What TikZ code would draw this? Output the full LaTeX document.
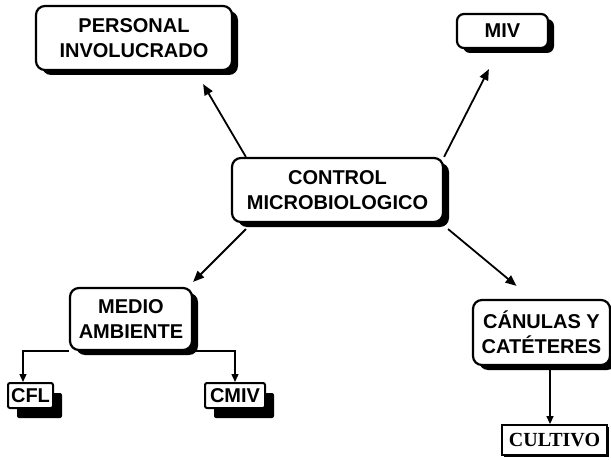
\documentclass[tikz,border=0pt]{standalone}
\usepackage{fontspec}
\setmainfont{Liberation Sans}
\newfontfamily\serifb{Liberation Serif}
\usetikzlibrary{arrows.meta,shadows}
\begin{document}
\begin{tikzpicture}[x=1pt,y=-1pt,
  bigbox/.style={draw=black, line width=2.2pt, fill=white, rounded corners=9pt, align=center,
    inner sep=0pt, font=\bfseries\fontsize{20}{25}\selectfont,
    drop shadow={shadow xshift=6pt, shadow yshift=-5pt, fill=black, opacity=1}},
  smallbox/.style={draw=black, line width=2pt, fill=white, rounded corners=2pt, align=center,
    inner sep=0pt, font=\bfseries\fontsize{20}{25}\selectfont,
    drop shadow={shadow xshift=9pt, shadow yshift=-10pt, fill=black, opacity=1}},
  plainbox/.style={draw=black, line width=1.8pt, fill=white, align=center,
    inner sep=0pt, font=\serifb\bfseries\fontsize{20}{25}\selectfont,
    drop shadow={shadow xshift=2pt, shadow yshift=-2pt, fill=black, opacity=1}},
  arr/.style={line width=1.8pt, -{Triangle[length=11pt,width=9pt]}},
  arrs/.style={line width=1.4pt, -{Triangle[length=8pt,width=7pt]}}
]
\useasboundingbox (0,0) rectangle (611,460);
\node[bigbox, minimum width=196pt, minimum height=64pt] (pers) at (134,38) {PERSONAL\\INVOLUCRADO};
\node[bigbox, minimum width=91pt, minimum height=34pt, rounded corners=7pt] (miv) at (502.5,31) {MIV};
\node[bigbox, minimum width=211pt, minimum height=64pt] (ctrl) at (337.5,190) {CONTROL\\MICROBIOLOGICO};
\node[bigbox, minimum width=122pt, minimum height=62pt] (medio) at (131,319) {MEDIO\\AMBIENTE};
\node[smallbox, minimum width=45pt, minimum height=25pt] (cfl) at (30.5,395.5) {CFL};
\node[smallbox, minimum width=60pt, minimum height=25pt] (cmiv) at (235,395.5) {CMIV};
\node[bigbox, minimum width=137pt, minimum height=65pt] (can) at (541.5,332.5) {CÁNULAS Y\\CATÉTERES};
\node[plainbox, minimum width=105pt, minimum height=30pt] (cult) at (554.5,440) {CULTIVO};
\coordinate (cx) at (550,0);

\draw[arr] ([xshift=15pt]ctrl.north west) -- ([xshift=-30pt,yshift=-13pt]pers.south east);
\draw[arr] (ctrl.north east) -- ([xshift=33pt,yshift=-20pt]miv.south west);
\draw[arr] ([xshift=15pt,yshift=-6pt]ctrl.south west) -- ([yshift=5pt]medio.north east);
\draw[arr] ([xshift=4pt,yshift=-6pt]ctrl.south east) -- ([xshift=-25pt,yshift=13pt]can.north);
\draw[arrs] (medio.south west) -| ([xshift=-7.5pt]cfl.north);
\draw[arrs] (medio.south east) -| (cmiv.north);
\draw[arrs] (can.south -| cx) -- (cult.north -| cx);
\end{tikzpicture}
\end{document}
